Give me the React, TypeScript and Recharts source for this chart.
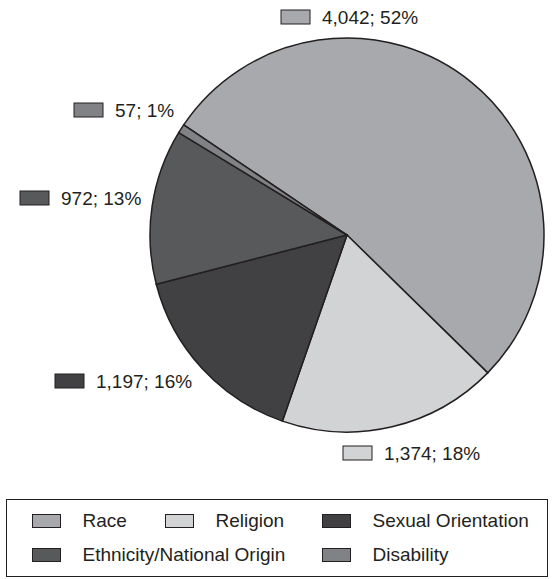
import { PieChart, Pie, Cell, Legend } from "recharts";

const CATEGORIES = ["Race", "Religion", "Sexual Orientation", "Ethnicity/National Origin", "Disability"];
const COUNTS = [4042, 1374, 1197, 972, 57];
const PERCENT_LABELS = ["52%", "18%", "16%", "13%", "1%"];

const COLORS = ["#a7a9ac", "#d1d3d4", "#414042", "#58595b", "#808285"];
const INK = "#231f20";
const FONT = "'Liberation Sans', Arial, sans-serif";

// where each label sits, relative to the pie centre (left of swatch, middle y)
const LABEL_OFFSETS: [number, number][] = [
  [-66, -218],
  [-4, 218],
  [-292, 146],
  [-327, -37],
  [-273, -125],
];

// legend grid: column and row of each entry
const LEGEND_COL = [0, 1, 2, 0, 2];
const LEGEND_ROW = [0, 0, 0, 1, 1];

const data = CATEGORIES.map((name, i) => ({ name, value: COUNTS[i] }));

const fmt = (n: number) => n.toLocaleString("en-US");

function renderLabel(props: any) {
  const { cx, cy, index, value } = props;
  const [dx, dy] = LABEL_OFFSETS[index];
  const x = cx + dx;
  const y = cy + dy;
  return (
    <g>
      <rect x={x} y={y - 7} width={29} height={14} fill={COLORS[index]} stroke={INK} strokeWidth={1} />
      <text x={x + 41} y={y} dominantBaseline="central" fontSize={19} fontFamily={FONT} fill={INK}>
        {`${fmt(value)}; ${PERCENT_LABELS[index]}`}
      </text>
    </g>
  );
}

function renderLegend() {
  const cols = [24.5, 157.5, 314.5];
  return (
    <div style={{ position: "relative", width: "100%", height: "100%", fontFamily: FONT, fontSize: 19, color: INK }}>
      {CATEGORIES.map((name, i) => (
        <div
          key={name}
          style={{
            position: "absolute",
            left: cols[LEGEND_COL[i]],
            top: 10.5 + LEGEND_ROW[i] * 34,
            display: "flex",
            alignItems: "center",
            height: 20,
            whiteSpace: "nowrap",
          }}
        >
          <span
            style={{
              display: "inline-block",
              width: 27,
              height: 12,
              background: COLORS[i],
              border: `1px solid ${INK}`,
              marginRight: 22,
            }}
          />
          <span>{name}</span>
        </div>
      ))}
    </div>
  );
}

export default function App() {
  return (
    <div style={{ position: "absolute", left: 0, top: 0, width: 553, height: 579, background: "#fff" }}>
      <PieChart width={553} height={579} margin={{ top: 0, right: 0, bottom: 0, left: 0 }}>
        <Pie
          data={data}
          dataKey="value"
          nameKey="name"
          cx={347}
          cy={235}
          outerRadius={197}
          startAngle={146}
          endAngle={-214}
          stroke={INK}
          strokeWidth={1.5}
          labelLine={false}
          label={renderLabel}
          isAnimationActive={false}
        >
          {data.map((d, i) => (
            <Cell key={d.name} fill={COLORS[i]} />
          ))}
        </Pie>
        <Legend
          content={renderLegend}
          wrapperStyle={{
            position: "absolute",
            left: 6,
            top: 499,
            width: 542,
            height: 78,
            border: `1.5px solid ${INK}`,
            boxSizing: "border-box",
          }}
        />
      </PieChart>
    </div>
  );
}
